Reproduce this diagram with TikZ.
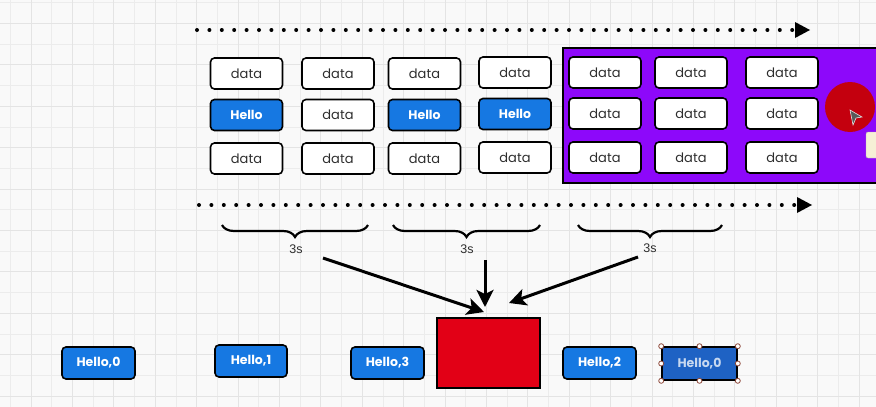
\documentclass[tikz,border=0pt]{standalone}
\usepackage{fontspec}
\setmainfont{Poppins}
\newfontfamily\labfont{Liberation Sans}
\usetikzlibrary{arrows.meta,decorations.pathreplacing,calc}
\definecolor{bgc}{RGB}{249,249,249}
\definecolor{gridc}{RGB}{236,236,236}
\definecolor{gridm}{RGB}{228,228,228}
\definecolor{bluec}{RGB}{22,120,226}
\definecolor{selblue}{RGB}{30,98,196}
\definecolor{purplec}{RGB}{141,8,250}
\definecolor{redc}{RGB}{226,0,22}
\definecolor{circred}{RGB}{196,0,14}
\definecolor{txtc}{RGB}{45,45,45}
\definecolor{tipc}{RGB}{246,240,214}
\definecolor{handle}{RGB}{140,70,55}
\tikzset{
  box/.style={draw=black, line width=1.6pt, rounded corners=4pt,
    minimum width=72pt, minimum height=31pt, inner sep=0pt},
  databox/.style={box, fill=white, text=txtc, font=\fontsize{13}{14}\selectfont},
  hellobox/.style={box, fill=bluec, text=white, font=\fontsize{12.5}{14}\selectfont\bfseries},
  dotline/.style={line width=4pt, line cap=round, dash pattern=on 0pt off 12.4pt,
    -{Triangle[length=15pt,width=16pt,line width=0pt]}},
  bracestyle/.style={decorate, decoration={brace, amplitude=12pt, aspect=0.5, mirror},
    line width=2.2pt},
  fatarrow/.style={line width=3pt, -{Stealth[length=17pt,width=17pt,inset=4pt]}},
  lab/.style={font=\labfont\fontsize{12.5}{14}\selectfont, text=txtc, inner sep=1pt},
  hdl/.style={circle, draw=handle, fill=white, line width=0.8pt, minimum size=5pt, inner sep=0pt}
}
\begin{document}
\begin{tikzpicture}[x=1pt,y=-1pt]
\useasboundingbox (0,0) rectangle (876,407);
\fill[bgc] (0,0) rectangle (876,407);
% grid
\foreach \i in {0,...,42} {
  \pgfmathsetmacro{\xx}{10.3+20.7*\i}
  \draw[gridc, line width=0.8pt] (\xx,0) -- (\xx,407);
}
\foreach \i in {0,...,20} {
  \pgfmathsetmacro{\yy}{2.7+20.7*\i}
  \draw[gridc, line width=0.8pt] (0,\yy) -- (876,\yy);
}
\foreach \i in {0,...,21} {
  \pgfmathsetmacro{\xx}{31+41.4*\i}
  \draw[gridm, line width=1pt] (\xx,0) -- (\xx,407);
}
\foreach \i in {0,...,10} {
  \pgfmathsetmacro{\yy}{23.4+41.4*\i}
  \draw[gridm, line width=1pt] (0,\yy) -- (876,\yy);
}

% dotted arrows
\coordinate (ta) at (197,30);
\coordinate (tb) at (810,30);
\coordinate (ba) at (199,205);
\coordinate (bb) at (812,205);
\draw[dotline] (ta) -- (tb);
\draw[dotline] (ba) -- (bb);

% purple window
\draw[fill=purplec, line width=2.5pt] (563,48) rectangle (882,183);

% grid of boxes
\node[databox] (a1) at (246.5,73.5) {data};
\node[hellobox] (a2) at (246.5,115) {Hello};
\node[databox] (a3) at (246.5,158.5) {data};
\node[databox] (b1) at (338,73.5) {data};
\node[databox] (b2) at (338,115) {data};
\node[databox] (b3) at (338,158.5) {data};
\node[databox] (c1) at (424.5,73.5) {data};
\node[hellobox] (c2) at (424.5,115) {Hello};
\node[databox] (c3) at (424.5,158.5) {data};
\node[databox] (d1) at (515,72.5) {data};
\node[hellobox] (d2) at (515,114) {Hello};
\node[databox] (d3) at (515,157.5) {data};
\node[databox] (e1) at (605,72.5) {data};
\node[databox] (e2) at (605,113.5) {data};
\node[databox] (e3) at (605,157.5) {data};
\node[databox] (f1) at (691,72.5) {data};
\node[databox] (f2) at (691,113.5) {data};
\node[databox] (f3) at (691,157.5) {data};
\node[databox] (g1) at (782,72.5) {data};
\node[databox] (g2) at (782,113.5) {data};
\node[databox] (g3) at (782,157.5) {data};

% red pointer circle, cursor and tooltip
\fill[circred] (850,107) circle (25);
\fill[gray!70!black, draw=white!80!gray, line width=0.6pt]
  (850,110) -- (862,117) -- (856,118) -- (853,125) -- cycle;
\draw[fill=tipc, draw=gray!60, rounded corners=2pt] (866,132) rectangle (882,158);

% braces and labels
\coordinate (br1a) at (222,225);
\coordinate (br1b) at (368,225);
\coordinate (br2a) at (393,225);
\coordinate (br2b) at (540,225);
\coordinate (br3a) at (578,225);
\coordinate (br3b) at (722,225);
\draw[bracestyle] (br1a) -- (br1b);
\draw[bracestyle] (br2a) -- (br2b);
\draw[bracestyle] (br3a) -- (br3b);
\node[lab] (s1) at (296,249) {3s};
\node[lab] (s2) at (467,249) {3s};
\node[lab] (s3) at (650,248) {3s};

% red box
\node[draw=black, line width=2pt, fill=redc, minimum width=103pt, minimum height=70pt,
  inner sep=0pt] (red) at (488.5,353) {};

% arrows
\coordinate (e1s) at (323,258);
\coordinate (e1t) at (484,312);
\coordinate (e2s) at (485,260);
\coordinate (e2t) at (485,307);
\coordinate (e3s) at (638,257);
\coordinate (e3t) at (509,303);
\draw[fatarrow] (e1s) -- (e1t);
\draw[fatarrow] (e2s) -- (e2t);
\draw[fatarrow] (e3s) -- (e3t);

% bottom hello boxes
\node[hellobox, minimum width=73pt, minimum height=32pt] (h0) at (98.5,363) {Hello,0};
\node[hellobox, minimum width=72pt, minimum height=32pt] (h1) at (251,361) {Hello,1};
\node[hellobox, minimum width=73pt, minimum height=32pt] (h3) at (387.5,363) {Hello,3};
\node[hellobox, minimum width=73pt, minimum height=32pt] (h2) at (599.5,363) {Hello,2};
\node[hellobox, fill=selblue, text=white!75!selblue, rounded corners=2pt,
  minimum width=75pt, minimum height=33pt] (hs) at (699.5,363.5) {Hello,0};
\foreach \a in {north west,north,north east,east,south east,south,south west,west}
  \node[hdl] at (hs.\a) {};
\end{tikzpicture}
\end{document}
